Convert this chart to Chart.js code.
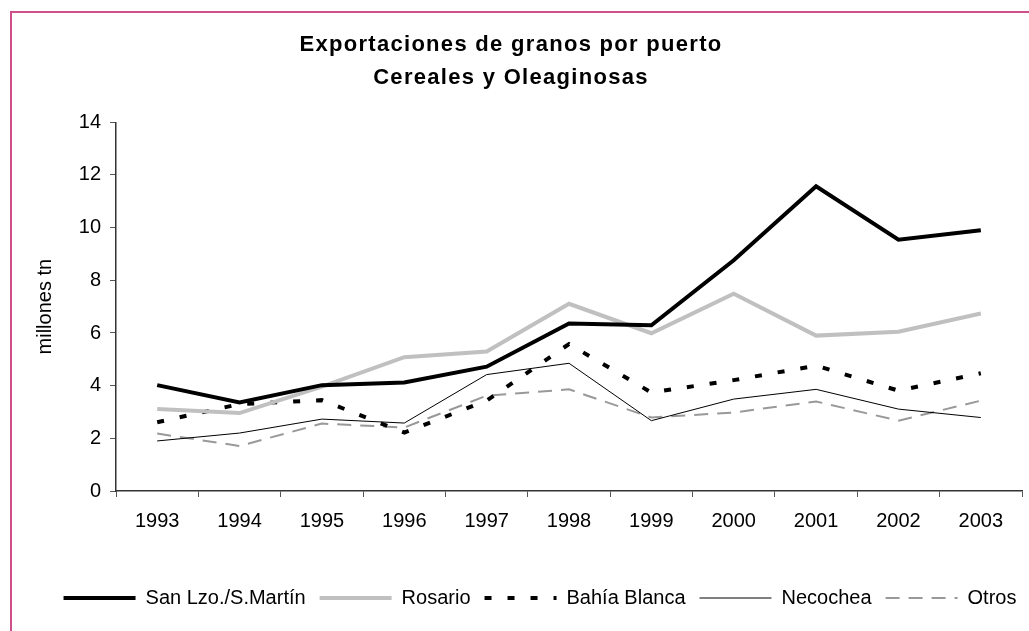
<!DOCTYPE html>
<html><head><meta charset="utf-8">
<script src="https://cdn.jsdelivr.net/npm/chart.js@4/dist/chart.umd.min.js"></script>
<style>
html,body{margin:0;padding:0;overflow:hidden;background:#fff;width:1029px;height:631px}
#wrap{position:relative;width:1029px;height:631px}
#frame{position:absolute;left:10px;top:11px;width:1100px;height:700px;border:2px solid #cf4f8b;box-sizing:border-box;pointer-events:none}
</style></head><body>
<div id="wrap"><canvas id="c" width="1029" height="631"></canvas><div id="frame"></div></div>
<script>
const years = ['1993','1994','1995','1996','1997','1998','1999','2000','2001','2002','2003'];
const sanLorenzo = [4.02, 3.36, 4.02, 4.12, 4.72, 6.36, 6.29, 8.76, 11.57, 9.54, 9.90];
const rosario    = [3.11, 2.96, 3.96, 5.08, 5.30, 7.11, 5.99, 7.49, 5.90, 6.05, 6.74];
const bahiaBlanca= [2.61, 3.30, 3.45, 2.22, 3.43, 5.58, 3.74, 4.21, 4.76, 3.81, 4.47];
const necochea   = [1.90, 2.20, 2.73, 2.58, 4.42, 4.85, 2.67, 3.49, 3.86, 3.11, 2.79];
const otros      = [2.18, 1.71, 2.56, 2.41, 3.62, 3.86, 2.79, 2.98, 3.40, 2.67, 3.43];
const seriesNames = ['San Lzo./S.Martín','Rosario','Bahía Blanca','Necochea','Otros'];
const titleLines = ['Exportaciones de granos por puerto','Cereales y Oleaginosas'];
const yTitle = 'millones tn';

const FONT = 'Liberation Sans, Arial, Helvetica, sans-serif';
Chart.defaults.font.family = FONT;
Chart.defaults.color = '#000';

const tweaks = {
  id: 'tweaks',
  afterLayout(chart) {
    const tb = chart.titleBlock;
    if (tb && !tb._patched) {
      const orig = tb.draw.bind(tb);
      tb.draw = function(a) { const c = chart.ctx; c.save(); c.letterSpacing = '1.3px'; orig(a); c.restore(); };
      tb._patched = true;
    }
    const lg = chart.legend;
    if (lg) { lg.left = 0; lg.right = 1080; }
  }
};

const mk = (label, data, color, width, dash) => ({
  label, data, borderColor: color, backgroundColor: color, borderWidth: width,
  borderDash: dash, pointRadius: 0, pointHoverRadius: 0, tension: 0, fill: false,
  borderCapStyle: 'butt', borderJoinStyle: 'miter'
});

new Chart(document.getElementById('c'), {
  type: 'line',
  data: {
    labels: years,
    datasets: [
      mk(seriesNames[0], sanLorenzo, '#000000', 4, []),
      mk(seriesNames[1], rosario, '#c0c0c0', 4, []),
      mk(seriesNames[2], bahiaBlanca, '#000000', 4, [7, 16]),
      mk(seriesNames[3], necochea, '#000000', 1, []),
      mk(seriesNames[4], otros, '#999999', 2, [14, 9])
    ]
  },
  options: {
    responsive: false,
    animation: false,
    events: [],
    layout: { padding: { top: 0, left: 0, right: 7, bottom: 13 } },
    plugins: {
      title: {
        display: true, text: titleLines, color: '#000',
        font: { size: 22, weight: 'bold', lineHeight: 1.5 },
        padding: { top: 28.5, bottom: 27.8 }
      },
      legend: {
        position: 'bottom',
        labels: {
          usePointStyle: true, pointStyle: 'line', pointStyleWidth: 72, boxWidth: 72,
          boxHeight: 20, padding: 14, color: '#000', font: { size: 20 },
          generateLabels(chart) {
            const items = Chart.defaults.plugins.legend.labels.generateLabels(chart);
            items.forEach(it => {
              const ds = chart.data.datasets[it.datasetIndex];
              it.lineDash = ds.borderDash; it.lineWidth = ds.borderWidth;
              it.strokeStyle = ds.borderColor; it.pointStyle = 'line'; it.lineCap = 'butt';
            });
            return items;
          }
        }
      },
      tooltip: { enabled: false }
    },
    scales: {
      x: {
        type: 'category', offset: true,
        grid: { display: true, drawOnChartArea: false, drawTicks: true, tickLength: 6, offset: true, color: '#555' },
        border: { display: true, color: '#333', width: 1.5 },
        ticks: { color: '#000', font: { size: 20 }, padding: 12, maxRotation: 0, autoSkip: false },
        afterFit(s) { s.height = 83; }
      },
      y: {
        min: 0, max: 14,
        grid: { display: true, drawOnChartArea: false, drawTicks: true, tickLength: 6, color: '#555' },
        border: { display: true, color: '#333', width: 1.5 },
        ticks: { stepSize: 2, color: '#000', font: { size: 20 }, padding: 9 },
        title: { display: true, text: yTitle, color: '#000', font: { size: 20 }, padding: { top: 33 } },
        afterFit(s) { s.width = 116; }
      }
    }
  },
  plugins: [tweaks]
});
</script>
</body></html>
